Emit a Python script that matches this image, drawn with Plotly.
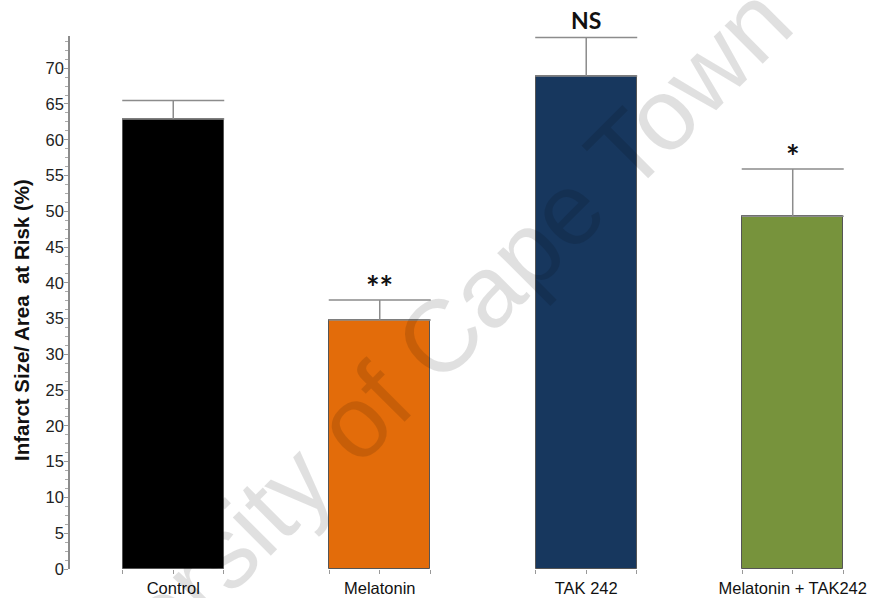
import plotly.graph_objects as go

# Infarct size data (mean ± SEM, upper error only)
groups = ["Control", "Melatonin", "TAK 242", "Melatonin + TAK242"]
means = [62.9, 34.8, 68.9, 49.3]
sem = [2.6, 2.8, 5.4, 6.6]
significance = ["", "**", "NS", "*"]
bar_colors = ["#000000", "#E36C0A", "#17375E", "#77933C"]
y_ticks = [0, 5, 10, 15, 20, 25, 30, 35, 40, 45, 50, 55, 60, 65, 70]

W, H = 869, 598
ML, MR, MT, MB = 70, 4, 36, 29
BAR_W = 0.49
X_RANGE = [-0.5, 3.35]
Y_RANGE = [0, 74.5]

pos = list(range(len(groups)))

fig = go.Figure()
fig.add_trace(go.Bar(
    x=pos, y=means, width=BAR_W,
    marker=dict(color=bar_colors, line=dict(color="#555555", width=1)),
    error_y=dict(type="data", symmetric=False, array=sem,
                 arrayminus=[0] * len(sem), color="#8c8c8c",
                 thickness=1.5, width=51),
    showlegend=False, hoverinfo="skip",
))

# significance markers above error bars
for p, m, s, lab in zip(pos, means, sem, significance):
    if lab:
        is_ns = lab == "NS"
        fig.add_annotation(x=p, y=m + s, text=f"<b>{lab}</b>", showarrow=False,
                           yanchor="bottom", yshift=1 if is_ns else -9,
                           font=dict(family="Lato, Open Sans, sans-serif",
                                     size=23 if is_ns else 32, color="#111111"))

# x ticks at each bar's left edge, centre and right edge
tickvals, ticktext = [], []
for p, g in zip(pos, groups):
    tickvals += [p - BAR_W / 2, p, p + BAR_W / 2]
    ticktext += ["", g, ""]

fig.update_xaxes(range=X_RANGE, tickvals=tickvals, ticktext=ticktext,
                 showline=False, showgrid=False, zeroline=False, automargin=False,
                 ticks="outside", ticklen=4, tickcolor="#999999", tickwidth=1,
                 tickfont=dict(family="Liberation Sans, Arial, sans-serif",
                               size=16.5, color="#111111"))
fig.update_yaxes(range=Y_RANGE, tickvals=y_ticks, showgrid=False, zeroline=False,
                 showline=True, linecolor="#8c8c8c", linewidth=1.5, automargin=False,
                 ticks="outside", ticklen=4, tickcolor="#999999", tickwidth=1,
                 ticklabelstandoff=-3,
                 minor=dict(dtick=1.25, tick0=0, ticks="outside", ticklen=3,
                            tickcolor="#aaaaaa", tickwidth=1, showgrid=False),
                 tickfont=dict(family="Liberation Sans, Arial, sans-serif",
                               size=16.5, color="#222222"))

# y-axis title
fig.add_annotation(xref="paper", yref="paper",
                   x=(22 - ML) / (W - ML - MR), y=(H - MB - 320) / (H - MT - MB),
                   text="<b>Infarct Size/ Area  at Risk (%)</b>", textangle=-90,
                   showarrow=False, xanchor="center", yanchor="middle",
                   font=dict(family="Liberation Sans, Arial, sans-serif",
                             size=20.5, color="#111111"))

# watermark
fig.add_annotation(xref="paper", yref="paper",
                   x=(385 - ML) / (W - ML - MR), y=(H - MB - 392) / (H - MT - MB),
                   text="University of Cape Town", textangle=-45,
                   showarrow=False, xanchor="center", yanchor="middle",
                   font=dict(family="Liberation Sans, Arial, sans-serif",
                             size=102, color="rgba(0,0,0,0.12)"))

fig.update_layout(width=W, height=H, margin=dict(l=ML, r=MR, t=MT, b=MB),
                  paper_bgcolor="white", plot_bgcolor="white", bargap=0)

fig.write_html("out.html")
